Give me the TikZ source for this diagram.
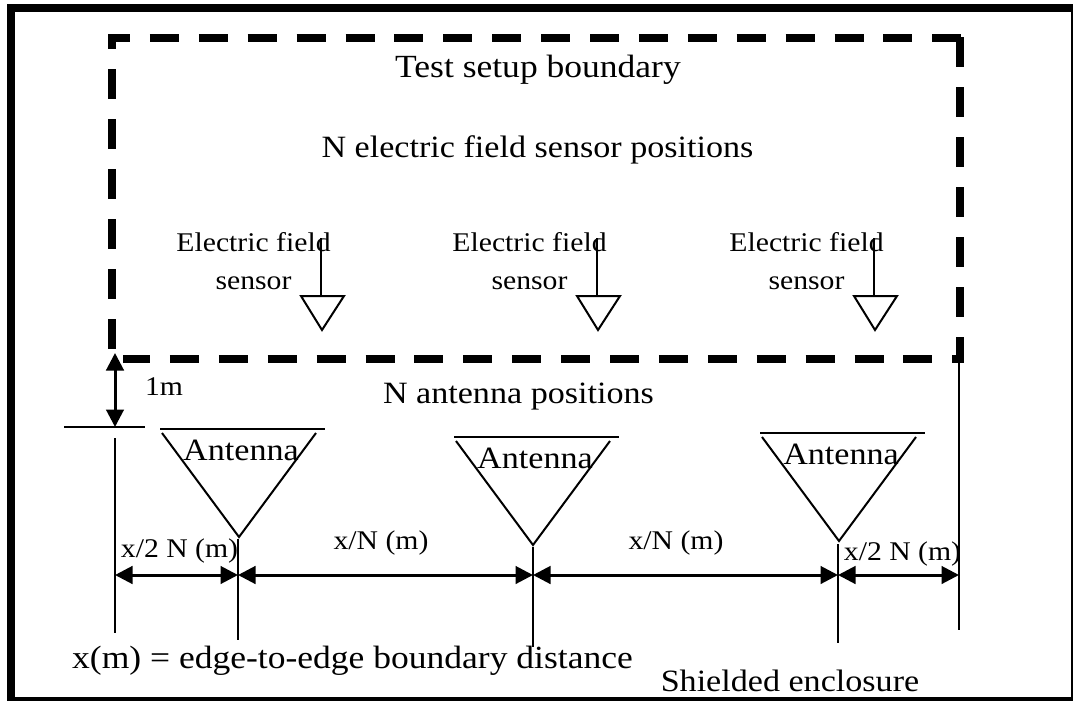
\documentclass[tikz,border=0pt]{standalone}
\usepackage{fontspec}
\setmainfont[FakeStretch=1.1]{Liberation Serif}
\usetikzlibrary{arrows.meta}
\tikzset{
  label/.style={font=\fontsize{31}{36}\selectfont, inner sep=0pt, anchor=base},
  biglabel/.style={font=\fontsize{32.3}{38}\selectfont, inner sep=0pt, anchor=base},
  small/.style={font=\fontsize{27}{32}\selectfont, inner sep=0pt, anchor=base},
  thin line/.style={line width=2pt},
  dim/.style={line width=3pt, {Triangle[length=17.5pt,width=17.5pt]}-{Triangle[length=17.5pt,width=17.5pt]}},
  boundary h/.style={line width=8pt, dash pattern=on 29pt off 19.9pt},
  boundary v/.style={line width=8pt, dash pattern=on 30pt off 20pt}
}
\begin{document}
\begin{tikzpicture}[x=1pt, y=-1pt]
  \useasboundingbox (0,0) rectangle (1073,702);
  \draw[line width=8pt] (11,4) -- (11,699) (7,8) -- (1073,8);         % Enclosure
  \draw[line width=1.5pt] (1072.2,8) -- (1072.2,699);
  \draw[line width=4pt] (7,699) -- (1073,699);
  \coordinate (TL) at (112,34);
  \coordinate (TOPL) at (108,38);
  \coordinate (TOPR) at (961,38);
  \coordinate (TR) at (960,37);
  \coordinate (BR) at (960,363);
  \coordinate (LEFTB) at (112,349);
  \coordinate (BOTL) at (123,359);
  \coordinate (BOTR) at (964,359);
  \draw[boundary h, dash phase=7pt] (TOPL) -- (TOPR);                 % Test setup boundary
  \draw[boundary v, dash phase=15pt] (TL) -- (LEFTB);
  \draw[boundary v] (TR) -- (BR);
  \draw[boundary h, dash phase=2pt] (BOTL) -- (BOTR);
  \node[biglabel] (TITLE) at (538,77) {Test setup boundary};
  \node[label] (NSENS) at (537.5,157) {N electric field sensor positions};
  \foreach \x/\n in {321/A, 597/B, 874/C} {                           % Sensors
    \coordinate (S\n) at (\x,238);
    \coordinate (ST\n) at (\x,296);
    \draw[thin line] (S\n) -- (ST\n);
    \draw[thin line] (\x-20,296) -- (\x+23,296) -- (\x+1,330) -- cycle;
    \node[small] (SL\n) at (\x-67.5,251) {Electric field};
    \node[small] (SM\n) at (\x-67.5,289) {sensor};
  }
  \node[label] (NANT) at (518.5,403) {N antenna positions};
  \foreach \x/\y/\n in {239/429/A, 533/437/B, 839/433/C} {            % Antennas
    \draw[thin line] (\x-79,\y) -- (\x+86,\y);
    \draw[thin line] (\x-77,\y+4) -- (\x,\y+108) -- (\x+77,\y+4);
    \node[label] (AL\n) at (\x+2,\y+31) {Antenna};
  }
  \coordinate (E0) at (115,353);
  \coordinate (E1) at (115,427);
  \draw[thin line] (64,427) -- (145,427);
  \draw[dim] (E0) -- (E1);
  \node[small] (ONEM) at (164,395) {1m};
  % Vertical marks
  \coordinate (V0) at (115,575);
  \coordinate (V1) at (238,575);
  \coordinate (V2) at (533,575);
  \coordinate (V3) at (838,575);
  \coordinate (V4) at (959,575);
  \draw[thin line] (115,438) -- (115,633);
  \draw[thin line] (238,539) -- (238,640);
  \draw[thin line] (533,547) -- (533,647);
  \draw[thin line] (838,544) -- (838,643);
  \draw[thin line] (959,363) -- (959,630);
  \draw[dim] (V0) -- (V1);
  \draw[dim] (V1) -- (V2);
  \draw[dim] (V2) -- (V3);
  \draw[dim] (V3) -- (V4);
  \node[small] (HALFA) at (179.5,557) {x/2 N (m)};
  \node[small] (FULLA) at (381,549) {x/N (m)};
  \node[small] (FULLB) at (676,549) {x/N (m)};
  \node[small] (HALFB) at (902.5,560) {x/2 N (m)};
  \node[biglabel] (XDIST) at (352.5,668) {x(m) = edge-to-edge boundary distance};
  \node[label] (SHIELD) at (790,691) {Shielded enclosure};
\end{tikzpicture}
\end{document}
